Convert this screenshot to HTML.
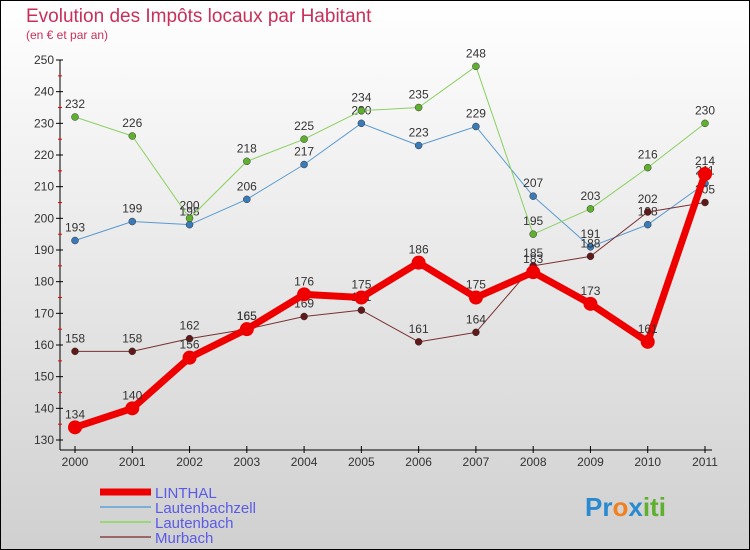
<!DOCTYPE html>
<html><head><meta charset="utf-8"><style>
body{margin:0;width:750px;height:550px;overflow:hidden;font-family:"Liberation Sans",sans-serif}
svg{display:block}
</style></head><body>
<svg id="chart" width="750" height="550" xmlns="http://www.w3.org/2000/svg">
<defs><linearGradient id="bg" x1="0" y1="0" x2="0" y2="1"><stop offset="0" stop-color="#ffffff"/><stop offset="1" stop-color="#d0d0d0"/></linearGradient></defs>
<rect x="0.5" y="0.5" width="749" height="549" fill="url(#bg)" stroke="#000"/>
<text x="26" y="22" font-size="19" fill="#c8305a">Evolution des Impôts locaux par Habitant</text>
<text x="26" y="39" font-size="12" fill="#c8305a">(en € et par an)</text>
<g id="axes"></g><g id="series"></g><g id="legend"></g>
<text x="585" y="516" font-size="26" font-weight="bold" fill="#f0a020"><tspan fill="#2a8ad0">Pr</tspan><tspan fill="#f08020">o</tspan><tspan fill="#2a8ad0">x</tspan><tspan fill="#60b030">iti</tspan></text>
</svg>
<script>
const years=['2000','2001','2002','2003','2004','2005','2006','2007','2008','2009','2010','2011'];
const yTicks=[130,140,150,160,170,180,190,200,210,220,230,240,250];
const linthal=[134,140,156,165,176,175,186,175,183,173,161,214];
const lautenbachzell=[193,199,198,206,217,230,223,229,207,191,198,211];
const lautenbach=[232,226,200,218,225,234,235,248,195,203,216,230];
const murbach=[158,158,162,165,169,171,161,164,185,188,202,205];
const NS='http://www.w3.org/2000/svg';
const X=i=>75+i*(630/11);
const Y=v=>440-(v-130)*(380/120);
function mk(tag,attrs,parent,text){const e=document.createElementNS(NS,tag);for(const k in attrs)e.setAttribute(k,attrs[k]);if(text!==undefined)e.textContent=text;parent.appendChild(e);return e;}
const axes=document.getElementById('axes');
let a=mk('line',{x1:60,y1:60,x2:60,y2:450,stroke:'#000'},axes);


a=mk('line',{x1:60,y1:450,x2:712,y2:450,stroke:'#000'},axes);


yTicks.forEach((t,i)=>{const y=Y(t);
 mk('line',{x1:56,y1:y,x2:63,y2:y,stroke:'#000'},axes);
 if(i<yTicks.length-1)mk('line',{x1:58,y1:y-15.8,x2:62,y2:y-15.8,stroke:'#e00'},axes);
 const l=mk('text',{x:54,y:y+4,'font-size':12,fill:'#333','text-anchor':'end'},axes,String(t));
 
 });
years.forEach((yr,i)=>{const x=X(i);
 mk('line',{x1:x,y1:446,x2:x,y2:453,stroke:'#000'},axes);
 const l=mk('text',{x:x,y:466,'font-size':12,fill:'#333','text-anchor':'middle'},axes,yr);
 
 });
const ser=document.getElementById('series');
const defs=[
 {name:'lautenbachzell',data:lautenbachzell,c:'#5a9ad0',pt:'#3a7ab8',w:1,r:3.5},
 {name:'lautenbach',data:lautenbach,c:'#8ad060',pt:'#60b030',w:1,r:3.5},
 {name:'murbach',data:murbach,c:'#7a3030',pt:'#601818',w:1,r:3.5},
 {name:'linthal',data:linthal,c:'#ee0000',pt:'#ee0000',w:7,r:7}];
defs.forEach(s=>{const g=mk('g',{},ser);
 
 
 const pl=mk('polyline',{points:s.data.map((v,i)=>X(i)+','+Y(v)).join(' '),fill:'none',stroke:s.c,'stroke-width':s.w,'stroke-linejoin':'round'},g);
 
 
 s.data.forEach((v,i)=>{const c=mk('circle',{cx:X(i),cy:Y(v),r:s.r,fill:s.pt,stroke:s.w>1?'none':'#333','stroke-width':0.5},g);
  
  
  const t=mk('text',{x:X(i),y:Y(v)-9,'font-size':12,fill:'#333','text-anchor':'middle'},g,String(v));
  
  });});
const leg=document.getElementById('legend');
const li=[['LINTHAL','#ee0000',7],['Lautenbachzell','#7ab0d8',2],['Lautenbach','#98d878',2],['Murbach','#9a6868',2]];
li.forEach((e,i)=>{const y=492+i*15;
 const g=mk('g',{},leg);
 
 
 mk('line',{x1:100,y1:y,x2:151,y2:y,stroke:e[1],'stroke-width':e[2]},g);
 mk('text',{x:155,y:y+6,'font-size':15,fill:'#5a5ae8'},g,e[0]);});
</script>
</body></html>
